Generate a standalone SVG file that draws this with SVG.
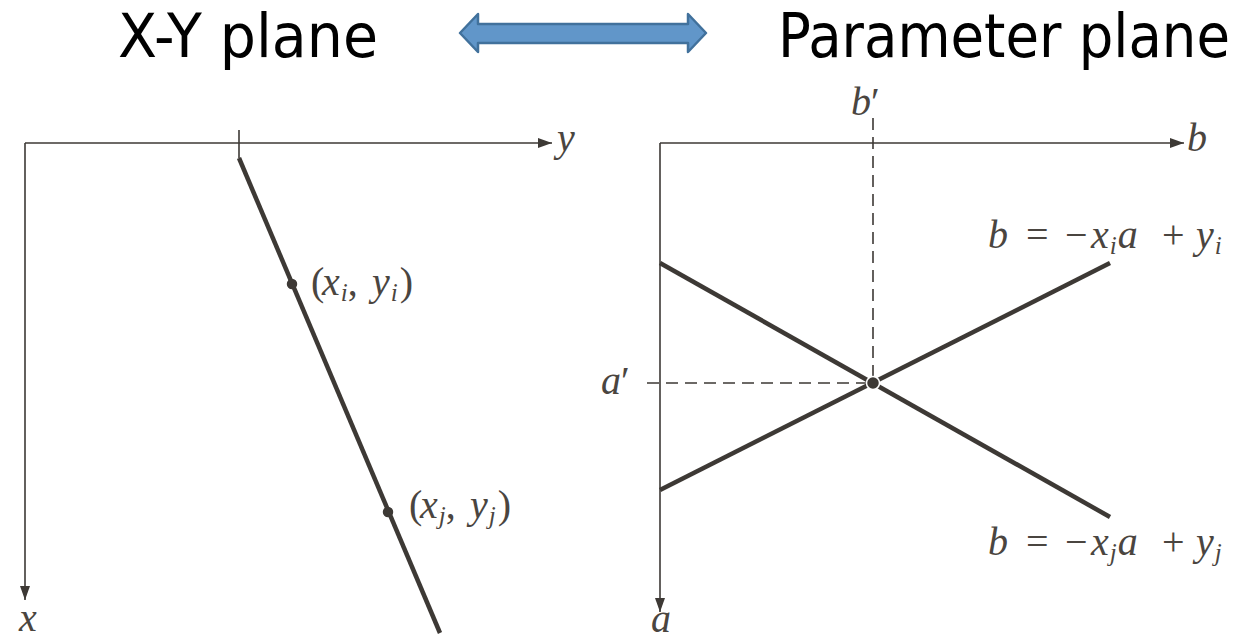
<svg xmlns="http://www.w3.org/2000/svg" width="1236" height="641" viewBox="0 0 1236 641">
<defs>
<marker id="ah" viewBox="0 0 14 10" refX="14" refY="5" markerWidth="14" markerHeight="10" markerUnits="userSpaceOnUse" orient="auto">
<path d="M0,0 L14,5 L0,10 Z" fill="#3d3935"/>
</marker>
</defs>
<style>
.title{font-family:"DejaVu Sans Condensed","DejaVu Sans",Verdana,sans-serif;font-stretch:condensed;font-size:60px;fill:#000}
.axis{stroke:#3d3935;stroke-width:1.6;fill:none}
.thick{stroke:#3d3935;stroke-width:4.5;fill:none}
.dash{stroke:#3d3935;stroke-width:1.6;fill:none;stroke-dasharray:12,7}
.m{font-family:"Liberation Serif","Times New Roman",serif;font-style:italic;font-size:40px;fill:#4a4540}
.r{font-style:normal}
.s{font-size:25px}
.dot{fill:#3d3935;stroke:#fff;stroke-width:1.5}
</style>
<rect width="1236" height="641" fill="#fff"/>
<g id="title-xy"><text class="title" x="118" y="57" textLength="260" lengthAdjust="spacingAndGlyphs">X-Y plane</text></g>
<g id="title-param"><text class="title" x="778" y="57" textLength="452" lengthAdjust="spacingAndGlyphs">Parameter plane</text></g>
<g id="double-arrow"><polygon points="460,33 478,14 478,24 688,24 688,14 706,33 688,52 688,43 478,43 478,52" fill="#6196c9" stroke="#41719c" stroke-width="2.5" stroke-linejoin="round"/></g>

<g id="xy-plane">
<text class="m" x="557" y="151">y</text>
<text class="m" x="19" y="631">x</text>
<line class="axis" x1="239" y1="130" x2="239" y2="158"/>
<circle class="dot" cx="292" cy="284" r="6"/>
<circle class="dot" cx="388" cy="512" r="6"/>
<text class="m" y="295"><tspan class="r" x="311">(</tspan><tspan x="322">x</tspan><tspan class="s" dx="1" dy="6">i</tspan><tspan class="r" dy="-6">,</tspan><tspan x="372">y</tspan><tspan class="s" dx="1" dy="6">i</tspan><tspan class="r" dx="2" dy="-6">)</tspan></text>
<text class="m" y="518"><tspan class="r" x="409">(</tspan><tspan x="420">x</tspan><tspan class="s" dx="1" dy="6">j</tspan><tspan class="r" dy="-6">,</tspan><tspan x="470">y</tspan><tspan class="s" dx="1" dy="6">j</tspan><tspan class="r" dx="2" dy="-6">)</tspan></text>
</g>

<g id="param-plane">
<text class="m" x="851" y="115">b<tspan class="r">′</tspan></text>
<text class="m" x="1187" y="151">b</text>
<text class="m" x="651" y="632">a</text>
<text class="m" x="601" y="394">a<tspan class="r">′</tspan></text>
<text class="m" y="248"><tspan x="988">b</tspan><tspan class="r" x="1026">=</tspan><tspan class="r" x="1065">−</tspan><tspan x="1091">x</tspan><tspan class="s" dx="1" dy="6">i</tspan><tspan dx="1" dy="-6">a</tspan><tspan class="r" x="1162">+</tspan><tspan x="1196">y</tspan><tspan class="s" dx="1" dy="6">i</tspan></text>
<text class="m" y="555"><tspan x="988">b</tspan><tspan class="r" x="1026">=</tspan><tspan class="r" x="1065">−</tspan><tspan x="1091">x</tspan><tspan class="s" dx="1" dy="6">j</tspan><tspan dx="1" dy="-6">a</tspan><tspan class="r" x="1162">+</tspan><tspan x="1196">y</tspan><tspan class="s" dx="1" dy="6">j</tspan></text>
</g>

<g id="connectors">
<line class="axis" x1="25" y1="143" x2="552" y2="143" marker-end="url(#ah)"/>
<line class="axis" x1="25" y1="143" x2="25" y2="600" marker-end="url(#ah)"/>
<line class="thick" x1="239" y1="158" x2="440" y2="633"/>
<line class="axis" x1="660" y1="143" x2="1184" y2="143" marker-end="url(#ah)"/>
<line class="axis" x1="660" y1="143" x2="660" y2="612" marker-end="url(#ah)"/>
<line class="dash" x1="873" y1="118" x2="873" y2="383"/>
<line class="dash" x1="647" y1="383" x2="873" y2="383"/>
<line class="thick" x1="660" y1="263" x2="1110" y2="517"/>
<line class="thick" x1="660" y1="490" x2="1110" y2="263"/>
<circle class="dot" cx="873" cy="383" r="6.5"/>
</g>
</svg>
